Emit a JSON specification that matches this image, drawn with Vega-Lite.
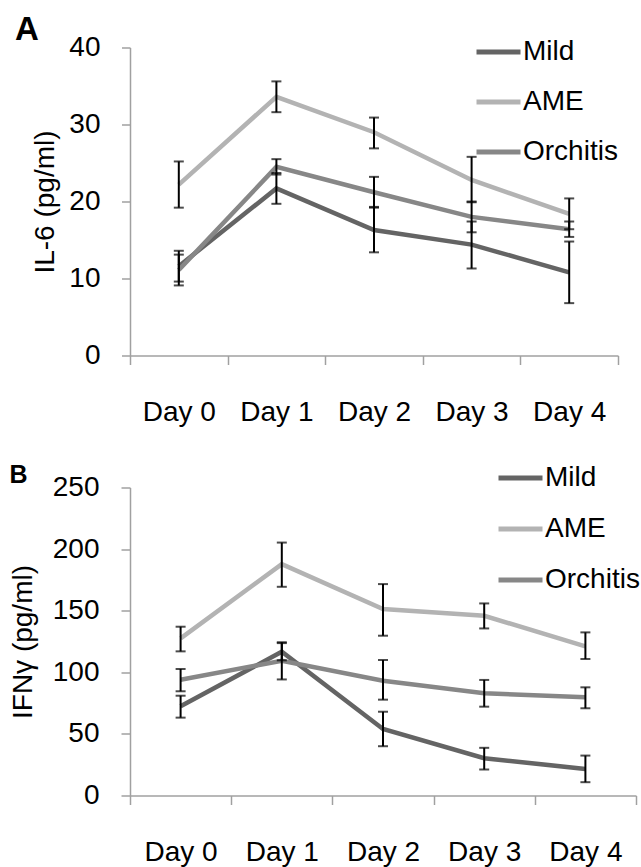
{
  "$schema": "https://vega.github.io/schema/vega-lite/v6.json",
  "background": "white",
  "padding": {"left": 9, "top": 13.5, "right": 0, "bottom": 0},
  "config": {
    "font": "Liberation Sans",
    "view": {"stroke": null},
    "axis": {"labelColor": "black", "titleColor": "black", "domainColor": "#a0a0a0", "tickColor": "#a0a0a0", "domainWidth": 1.5, "tickWidth": 1.5, "grid": false, "labelFont": "Liberation Sans", "titleFont": "Liberation Sans"},
    "legend": {"labelColor": "black", "padding": 0}
  },
  "datasets": {
    "il6": [
      {"day": "Day 0", "group": "Mild", "v": 11.6, "lo": 9.6, "hi": 13.6},
      {"day": "Day 0", "group": "AME", "v": 22.2, "lo": 19.2, "hi": 25.2},
      {"day": "Day 0", "group": "Orchitis", "v": 11.1, "lo": 9.1, "hi": 13.1},
      {"day": "Day 1", "group": "Mild", "v": 21.7, "lo": 19.7, "hi": 23.7},
      {"day": "Day 1", "group": "AME", "v": 33.6, "lo": 31.6, "hi": 35.6},
      {"day": "Day 1", "group": "Orchitis", "v": 24.5, "lo": 23.5, "hi": 25.5},
      {"day": "Day 2", "group": "Mild", "v": 16.3, "lo": 13.4, "hi": 19.3},
      {"day": "Day 2", "group": "AME", "v": 29.0, "lo": 26.9, "hi": 30.9},
      {"day": "Day 2", "group": "Orchitis", "v": 21.2, "lo": 19.2, "hi": 23.2},
      {"day": "Day 3", "group": "Mild", "v": 14.4, "lo": 11.3, "hi": 17.4},
      {"day": "Day 3", "group": "AME", "v": 22.8, "lo": 19.9, "hi": 25.8},
      {"day": "Day 3", "group": "Orchitis", "v": 18.0, "lo": 16.0, "hi": 20.0},
      {"day": "Day 4", "group": "Mild", "v": 10.8, "lo": 6.8, "hi": 14.8},
      {"day": "Day 4", "group": "AME", "v": 18.4, "lo": 16.4, "hi": 20.4},
      {"day": "Day 4", "group": "Orchitis", "v": 16.4, "lo": 15.4, "hi": 17.4}
    ],
    "ifn": [
      {"day": "Day 0", "group": "Mild", "v": 72.4, "lo": 63.2, "hi": 81.0},
      {"day": "Day 0", "group": "AME", "v": 127.5, "lo": 117.0, "hi": 137.0},
      {"day": "Day 0", "group": "Orchitis", "v": 94.0, "lo": 84.6, "hi": 102.7},
      {"day": "Day 1", "group": "Mild", "v": 116.7, "lo": 109.7, "hi": 123.7},
      {"day": "Day 1", "group": "AME", "v": 187.8, "lo": 169.4, "hi": 205.3},
      {"day": "Day 1", "group": "Orchitis", "v": 109.4, "lo": 94.2, "hi": 124.4},
      {"day": "Day 2", "group": "Mild", "v": 54.0, "lo": 40.0, "hi": 68.0},
      {"day": "Day 2", "group": "AME", "v": 151.3, "lo": 129.7, "hi": 171.6},
      {"day": "Day 2", "group": "Orchitis", "v": 93.2, "lo": 77.8, "hi": 110.0},
      {"day": "Day 3", "group": "Mild", "v": 30.3, "lo": 21.1, "hi": 38.7},
      {"day": "Day 3", "group": "AME", "v": 145.9, "lo": 135.6, "hi": 155.9},
      {"day": "Day 3", "group": "Orchitis", "v": 83.0, "lo": 72.1, "hi": 93.8},
      {"day": "Day 4", "group": "Mild", "v": 21.6, "lo": 10.8, "hi": 32.4},
      {"day": "Day 4", "group": "AME", "v": 121.0, "lo": 110.8, "hi": 132.4},
      {"day": "Day 4", "group": "Orchitis", "v": 79.7, "lo": 70.8, "hi": 87.8}
    ]
  },
  "align": "none",
  "spacing": 27,
  "vconcat": [
    {
      "width": 488,
      "height": 308,
      "title": {"text": "A", "anchor": "start", "frame": "group", "fontSize": 33, "fontWeight": "bold", "color": "black", "offset": 4, "dx": -115, "dy": 23},
      "data": {"name": "il6"},
      "layer": [
        {
          "mark": {"type": "line", "strokeWidth": 4.5},
          "encoding": {
            "x": {"field": "day", "type": "nominal", "bandPosition": 0.5,
                  "scale": {"type": "band", "paddingInner": 0, "paddingOuter": 0},
                  "axis": {"title": null, "tickBand": "extent", "labelAngle": 0, "labelFontSize": 28, "labelPadding": 34, "tickSize": 9}},
            "y": {"field": "v", "type": "quantitative", "title": "IL-6 (pg/ml)",
                  "scale": {"domain": [0, 40], "nice": false},
                  "axis": {"values": [0, 10, 20, 30, 40], "title": "IL-6 (pg/ml)", "titleFontSize": 28, "titleFontWeight": "normal", "titlePadding": 9.7, "labelFontSize": 28, "labelPadding": 21.5, "tickSize": 8.5}},
            "color": {"field": "group", "type": "nominal",
                      "scale": {"domain": ["Mild", "AME", "Orchitis"], "range": ["#646464", "#b3b3b3", "#878787"]},
                      "legend": {"title": null, "orient": "none", "legendX": 344, "legendY": -20, "symbolType": "stroke", "symbolSize": 1936, "symbolStrokeWidth": 5, "labelFontSize": 28, "labelOffset": 0, "rowPadding": 11}}
          }
        },
        {
          "mark": {"type": "errorbar", "ticks": {"size": 10, "thickness": 2, "color": "black"}, "rule": {"strokeWidth": 2, "color": "black"}},
          "encoding": {
            "x": {"field": "day", "type": "nominal", "bandPosition": 0.5},
            "y": {"field": "lo", "type": "quantitative", "title": "IL-6 (pg/ml)"},
            "y2": {"field": "hi"}
          }
        }
      ]
    },
    {
      "width": 506,
      "height": 308,
      "title": {"text": "B", "anchor": "start", "frame": "group", "fontSize": 25, "fontWeight": "bold", "color": "black", "offset": 4, "dx": -120.5, "dy": 38},
      "data": {"name": "ifn"},
      "layer": [
        {
          "mark": {"type": "line", "strokeWidth": 4.5},
          "encoding": {
            "x": {"field": "day", "type": "nominal", "bandPosition": 0.5,
                  "scale": {"type": "band", "paddingInner": 0, "paddingOuter": 0},
                  "axis": {"title": null, "tickBand": "extent", "labelAngle": 0, "labelFontSize": 28, "labelPadding": 34, "tickSize": 9}},
            "y": {"field": "v", "type": "quantitative", "title": "IFNγ (pg/ml)",
                  "scale": {"domain": [0, 250], "nice": false},
                  "axis": {"values": [0, 50, 100, 150, 200, 250], "title": "IFNγ (pg/ml)", "titleFontSize": 28, "titleFontWeight": "normal", "titlePadding": 15, "labelFontSize": 28, "labelPadding": 22, "tickSize": 9}},
            "color": {"field": "group", "type": "nominal",
                      "scale": {"domain": ["Mild", "AME", "Orchitis"], "range": ["#646464", "#b3b3b3", "#878787"]},
                      "legend": {"title": null, "orient": "none", "legendX": 366, "legendY": -34, "symbolType": "stroke", "symbolSize": 1936, "symbolStrokeWidth": 5, "labelFontSize": 28, "labelOffset": 0, "rowPadding": 12}}
          }
        },
        {
          "mark": {"type": "errorbar", "ticks": {"size": 10, "thickness": 2, "color": "black"}, "rule": {"strokeWidth": 2, "color": "black"}},
          "encoding": {
            "x": {"field": "day", "type": "nominal", "bandPosition": 0.5},
            "y": {"field": "lo", "type": "quantitative", "title": "IFNγ (pg/ml)"},
            "y2": {"field": "hi"}
          }
        }
      ]
    }
  ],
  "resolve": {"scale": {"color": "independent"}}
}
